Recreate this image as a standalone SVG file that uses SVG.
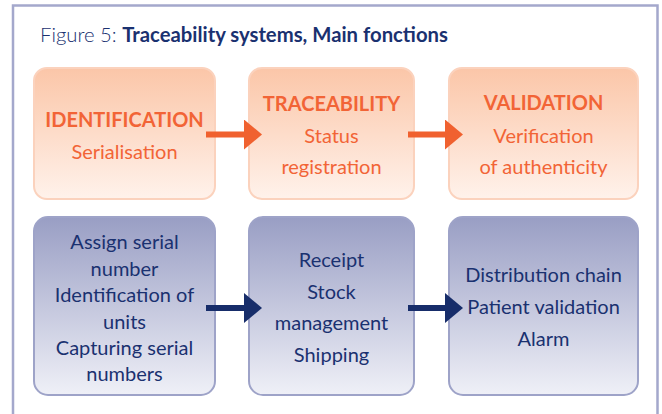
<svg xmlns="http://www.w3.org/2000/svg" width="662" height="414" viewBox="0 0 662 414">
<defs>
<linearGradient id="gOr" x1="0" y1="0" x2="0" y2="1">
<stop offset="0" stop-color="#fbc6a8"/>
<stop offset="1" stop-color="#fff2eb"/>
</linearGradient>
<linearGradient id="gBl" x1="0" y1="0" x2="0" y2="1">
<stop offset="0" stop-color="#999ec4"/>
<stop offset="1" stop-color="#eff0f7"/>
</linearGradient>
<marker id="hOr" markerUnits="userSpaceOnUse" markerWidth="18" markerHeight="30" refX="0" refY="15" orient="auto">
<path d="M0,0 L18,15 L0,30 Z" fill="#f0612f"/>
</marker>
<marker id="hBl" markerUnits="userSpaceOnUse" markerWidth="18" markerHeight="30" refX="0" refY="15" orient="auto">
<path d="M0,0 L18,15 L0,30 Z" fill="#172d6a"/>
</marker>
</defs>
<style>
.frame{fill:#fff;stroke:#a4a8cc;stroke-width:2.5}
.bo{fill:url(#gOr);stroke:#fbd2bd;stroke-width:2}
.bb{fill:url(#gBl);stroke:#9ea3c8;stroke-width:2}
.to{font-family:Lato,"Open Sans",sans-serif;font-size:20px;fill:#f26436;text-anchor:middle}
.tb{font-family:Lato,"Open Sans",sans-serif;font-size:20px;fill:#1a3170;text-anchor:middle}
.bold{font-weight:bold}
.ao{stroke:#f0612f;stroke-width:6;fill:none;marker-end:url(#hOr)}
.ab{stroke:#172d6a;stroke-width:6;fill:none;marker-end:url(#hBl)}
.title{font-family:Lato,"Open Sans",sans-serif;font-size:20.3px;fill:#1a3170}
</style>
<rect width="662" height="414" fill="#fff"/>
<path class="frame" d="M13,420 L13,5.5 L657.5,5.5 L657.5,420"/>
<text class="title" x="40" y="42"><tspan font-weight="300">Figure 5: </tspan><tspan font-weight="bold">Traceability systems, Main fonctions</tspan></text>

<g id="n-identification">
<rect class="bo" x="34" y="68" width="181" height="131" rx="13"/>
<text class="to bold" x="124.5" y="127">IDENTIFICATION</text>
<text class="to" x="124.5" y="159">Serialisation</text>
</g>
<g id="n-traceability">
<rect class="bo" x="249" y="68" width="165" height="131" rx="13"/>
<text class="to bold" x="331.5" y="111">TRACEABILITY</text>
<text class="to" x="331.5" y="143">Status</text>
<text class="to" x="331.5" y="174">registration</text>
</g>
<g id="n-validation">
<rect class="bo" x="449" y="68" width="189" height="131" rx="13"/>
<text class="to bold" x="543.5" y="110">VALIDATION</text>
<text class="to" x="543.5" y="143">Verification</text>
<text class="to" x="543.5" y="174">of authenticity</text>
</g>

<g id="n-assign">
<rect class="bb" x="34" y="217" width="181" height="178" rx="14"/>
<text class="tb" x="124.5" y="249">Assign serial</text>
<text class="tb" x="124.5" y="275.5">number</text>
<text class="tb" x="124.5" y="302">Identification of</text>
<text class="tb" x="124.5" y="328.5">units</text>
<text class="tb" x="124.5" y="355">Capturing serial</text>
<text class="tb" x="124.5" y="381">numbers</text>
</g>
<g id="n-receipt">
<rect class="bb" x="249" y="217" width="165" height="178" rx="14"/>
<text class="tb" x="331.5" y="267">Receipt</text>
<text class="tb" x="331.5" y="298.5">Stock</text>
<text class="tb" x="331.5" y="330">management</text>
<text class="tb" x="331.5" y="361.5">Shipping</text>
</g>
<g id="n-distribution">
<rect class="bb" x="449" y="217" width="189" height="178" rx="14"/>
<text class="tb" x="543.5" y="282">Distribution chain</text>
<text class="tb" x="543.5" y="314">Patient validation</text>
<text class="tb" x="543.5" y="346">Alarm</text>
</g>

<g id="connectors">
<line class="ao" x1="206" y1="134.5" x2="244" y2="134.5"/>
<line class="ao" x1="408" y1="134.5" x2="445" y2="134.5"/>
<line class="ab" x1="206" y1="308" x2="244" y2="308"/>
<line class="ab" x1="408" y1="308" x2="445" y2="308"/>
</g>
</svg>
